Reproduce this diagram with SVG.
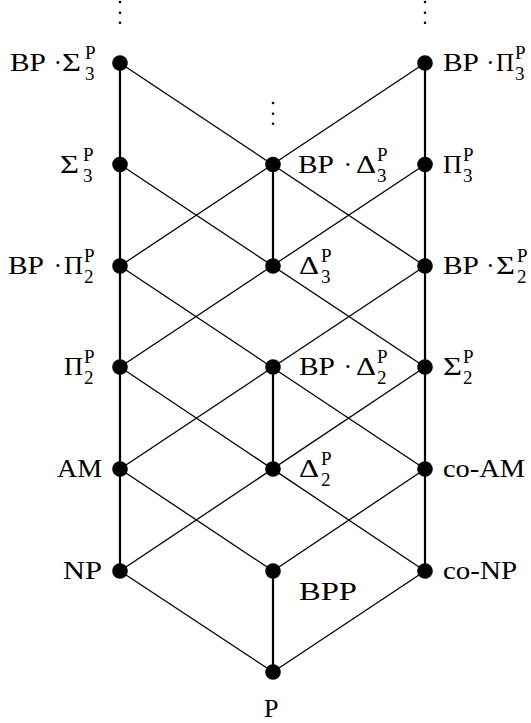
<svg xmlns="http://www.w3.org/2000/svg" width="531" height="723" viewBox="0 0 531 723">
<style>
.t{font-family:'Liberation Serif','DejaVu Serif',serif;font-size:26px;fill:#000}
.t .s{font-size:19px}
.thick{stroke:#000;stroke-width:2.2;fill:none}
.thin{stroke:#000;stroke-width:1.3;fill:none}
.dot{fill:#000}
.vd{fill:#000}
</style>
<rect width="531" height="723" fill="#fff"/>
<g id="connectors">
<line class="thick" x1="120" y1="63" x2="120" y2="571"/>
<line class="thick" x1="425" y1="63" x2="425" y2="571"/>
<line class="thick" x1="273" y1="164.5" x2="273" y2="266"/>
<line class="thick" x1="273" y1="367" x2="273" y2="469"/>
<line class="thick" x1="273" y1="571" x2="273" y2="672"/>
<line class="thin" x1="120" y1="63" x2="425" y2="266"/>
<line class="thin" x1="425" y1="63" x2="120" y2="266"/>
<line class="thin" x1="120" y1="164.5" x2="425" y2="367"/>
<line class="thin" x1="425" y1="164.5" x2="120" y2="367"/>
<line class="thin" x1="120" y1="266" x2="425" y2="469"/>
<line class="thin" x1="425" y1="266" x2="120" y2="469"/>
<line class="thin" x1="120" y1="367" x2="425" y2="571"/>
<line class="thin" x1="425" y1="367" x2="120" y2="571"/>
<line class="thin" x1="120" y1="469" x2="273" y2="571"/>
<line class="thin" x1="425" y1="469" x2="273" y2="571"/>
<line class="thin" x1="120" y1="571" x2="273" y2="672"/>
<line class="thin" x1="425" y1="571" x2="273" y2="672"/>
</g>
<g id="ellipses">
<circle class="vd" cx="120" cy="2" r="1.3"/><circle class="vd" cx="120" cy="12.7" r="1.3"/><circle class="vd" cx="120" cy="22.7" r="1.3"/>
<circle class="vd" cx="425" cy="2" r="1.3"/><circle class="vd" cx="425" cy="12.7" r="1.3"/><circle class="vd" cx="425" cy="22.7" r="1.3"/>
<circle class="vd" cx="273" cy="103" r="1.3"/><circle class="vd" cx="273" cy="113.7" r="1.3"/><circle class="vd" cx="273" cy="123.7" r="1.3"/>
</g>
<g class="t" font-family="Liberation Serif, DejaVu Serif, serif">
<g id="BPSigma3">
<circle class="dot" cx="120" cy="63" r="7.8"/>
<text x="10" y="71" textLength="36" lengthAdjust="spacingAndGlyphs">BP</text><text x="53.5" y="71">·</text><text x="62" y="71" textLength="19" lengthAdjust="spacingAndGlyphs">Σ</text><text class="s" x="85" y="59">P</text><text class="s" x="85" y="80">3</text>
</g>
<g id="Sigma3">
<circle class="dot" cx="120" cy="164.5" r="7.8"/>
<text x="60" y="172.5" textLength="19" lengthAdjust="spacingAndGlyphs">Σ</text><text class="s" x="83" y="160.5">P</text><text class="s" x="83" y="181.5">3</text>
</g>
<g id="BPPi2">
<circle class="dot" cx="120" cy="266" r="7.8"/>
<text x="8" y="274" textLength="36" lengthAdjust="spacingAndGlyphs">BP</text><text x="53.5" y="274">·</text><text x="64" y="274" textLength="19" lengthAdjust="spacingAndGlyphs">Π</text><text class="s" x="84" y="262">P</text><text class="s" x="84" y="283">2</text>
</g>
<g id="Pi2">
<circle class="dot" cx="120" cy="367" r="7.8"/>
<text x="64" y="375" textLength="19" lengthAdjust="spacingAndGlyphs">Π</text><text class="s" x="84" y="363">P</text><text class="s" x="84" y="384">2</text>
</g>
<g id="AM">
<circle class="dot" cx="120" cy="469" r="7.8"/>
<text x="57" y="477" textLength="45" lengthAdjust="spacingAndGlyphs">AM</text>
</g>
<g id="NP">
<circle class="dot" cx="120" cy="571" r="7.8"/>
<text x="63" y="579" textLength="39" lengthAdjust="spacingAndGlyphs">NP</text>
</g>
<g id="BPPi3">
<circle class="dot" cx="425" cy="63" r="7.8"/>
<text x="443" y="71" textLength="36" lengthAdjust="spacingAndGlyphs">BP</text><text x="486" y="71">·</text><text x="496" y="71" textLength="18" lengthAdjust="spacingAndGlyphs">Π</text><text class="s" x="515" y="59">P</text><text class="s" x="515" y="80">3</text>
</g>
<g id="Pi3">
<circle class="dot" cx="425" cy="164.5" r="7.8"/>
<text x="443" y="172.5" textLength="19" lengthAdjust="spacingAndGlyphs">Π</text><text class="s" x="463" y="160.5">P</text><text class="s" x="463" y="181.5">3</text>
</g>
<g id="BPSigma2">
<circle class="dot" cx="425" cy="266" r="7.8"/>
<text x="443" y="274" textLength="36" lengthAdjust="spacingAndGlyphs">BP</text><text x="486" y="274">·</text><text x="496" y="274" textLength="19" lengthAdjust="spacingAndGlyphs">Σ</text><text class="s" x="517" y="262">P</text><text class="s" x="517" y="283">2</text>
</g>
<g id="Sigma2">
<circle class="dot" cx="425" cy="367" r="7.8"/>
<text x="443" y="375" textLength="19" lengthAdjust="spacingAndGlyphs">Σ</text><text class="s" x="463" y="363">P</text><text class="s" x="463" y="384">2</text>
</g>
<g id="coAM">
<circle class="dot" cx="425" cy="469" r="7.8"/>
<text x="443" y="477" textLength="82" lengthAdjust="spacingAndGlyphs">co-AM</text>
</g>
<g id="coNP">
<circle class="dot" cx="425" cy="571" r="7.8"/>
<text x="443" y="579" textLength="74" lengthAdjust="spacingAndGlyphs">co-NP</text>
</g>
<g id="BPDelta3">
<circle class="dot" cx="273" cy="164.5" r="7.8"/>
<text x="298" y="172.5" textLength="36" lengthAdjust="spacingAndGlyphs">BP</text><text x="343.5" y="172.5">·</text><text x="356" y="172.5" textLength="20" lengthAdjust="spacingAndGlyphs">Δ</text><text class="s" x="377" y="160.5">P</text><text class="s" x="377" y="181.5">3</text>
</g>
<g id="Delta3">
<circle class="dot" cx="273" cy="266" r="7.8"/>
<text x="299" y="274" textLength="20" lengthAdjust="spacingAndGlyphs">Δ</text><text class="s" x="321" y="262">P</text><text class="s" x="321" y="283">3</text>
</g>
<g id="BPDelta2">
<circle class="dot" cx="273" cy="367" r="7.8"/>
<text x="299" y="375" textLength="36" lengthAdjust="spacingAndGlyphs">BP</text><text x="343.5" y="375">·</text><text x="356" y="375" textLength="20" lengthAdjust="spacingAndGlyphs">Δ</text><text class="s" x="377" y="363">P</text><text class="s" x="377" y="384">2</text>
</g>
<g id="Delta2">
<circle class="dot" cx="273" cy="469" r="7.8"/>
<text x="299" y="477" textLength="20" lengthAdjust="spacingAndGlyphs">Δ</text><text class="s" x="321" y="465">P</text><text class="s" x="321" y="486">2</text>
</g>
<g id="BPP">
<circle class="dot" cx="273" cy="571" r="7.8"/>
<text x="299" y="600" textLength="58" lengthAdjust="spacingAndGlyphs">BPP</text>
</g>
<g id="P">
<circle class="dot" cx="273" cy="672" r="7.8"/>
<text x="264" y="717">P</text>
</g>
</g>
</svg>
